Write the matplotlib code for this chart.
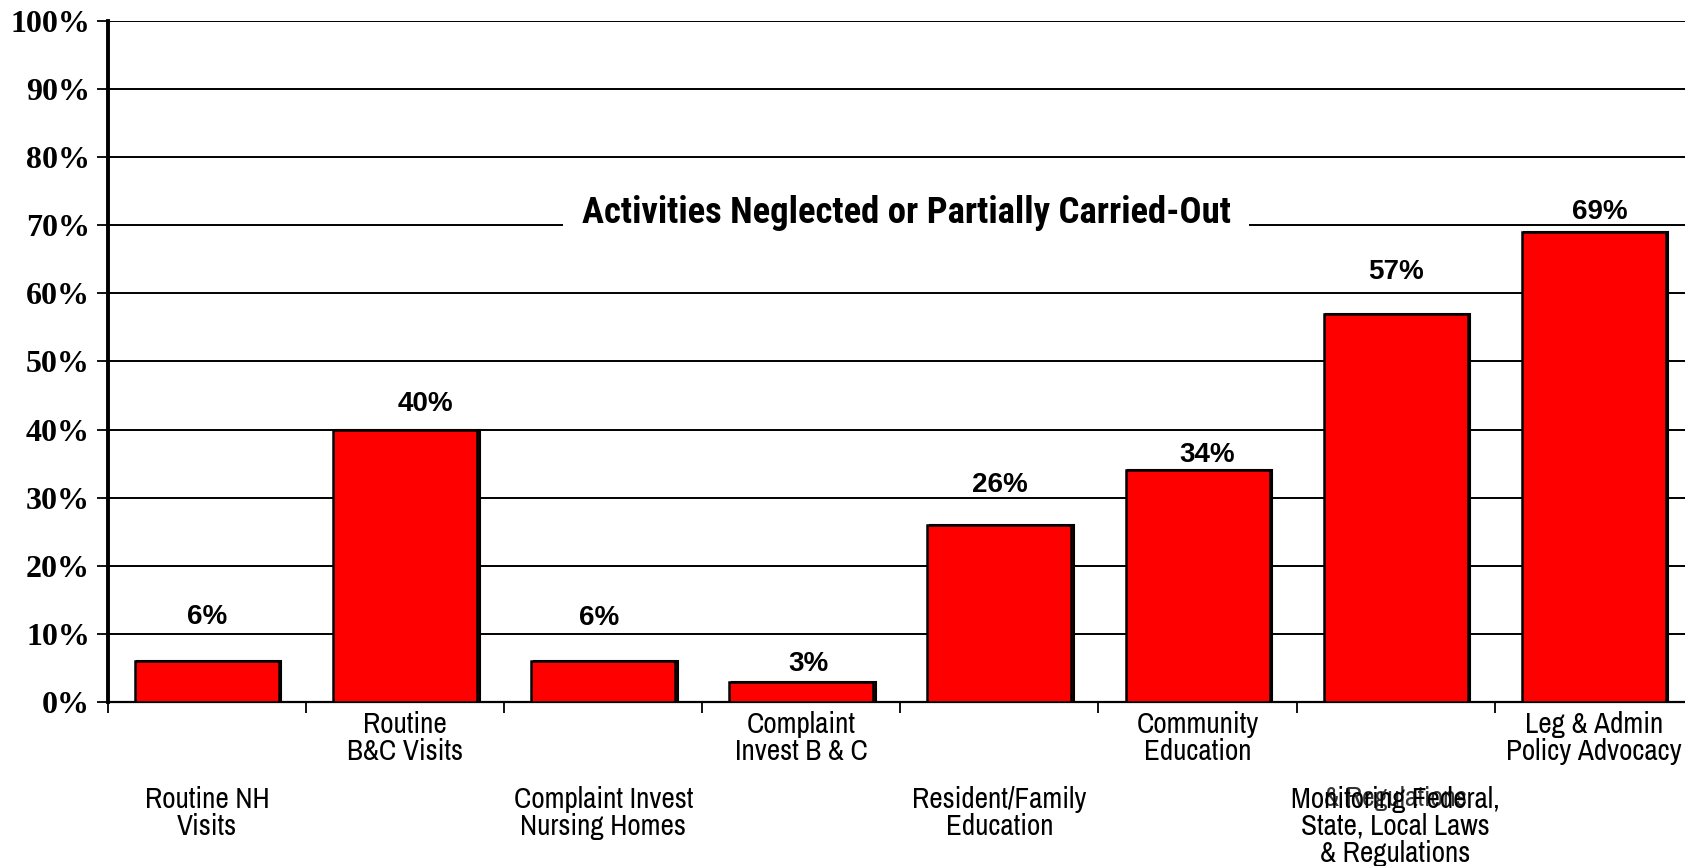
import numpy as np
import matplotlib
matplotlib.use("Agg")
import matplotlib.pyplot as plt
from matplotlib import font_manager

# values
categories = ["Routine NH\nVisits", "Routine\nB&C Visits", "Complaint Invest\nNursing Homes",
              "Complaint\nInvest B & C", "Resident/Family\nEducation", "Community\nEducation",
              "Monitoring Federal,\nState, Local Laws\n& Regulations", "Leg & Admin\nPolicy Advocacy"]
values = [6, 40, 6, 3, 26, 34, 57, 69]
ytick_values = [0, 10, 20, 30, 40, 50, 60, 70, 80, 90, 100]
title_text = "Activities Neglected or Partially Carried-Out"

# layout only: label nudges (in % / category units)
label_lift = [6.5, 3.8, 6.3, 2.6, 5.9, 2.2, 6.2, 3.0]
label_shift = [0, 0.1, -0.02, 0.035, 0, 0.05, 0, 0.03]

names = {f.name for f in font_manager.fontManager.ttflist}
def pick(*cands):
    for c in cands:
        if c in names:
            return c
    return "Liberation Sans"

narrow = pick("Liberation Sans Narrow", "Archivo Narrow", "PT Sans Narrow", "Roboto Condensed")
title_font = pick("Roboto Condensed", "PT Sans Narrow", "Archivo Narrow")

fig = plt.figure(figsize=(16.85, 8.66), dpi=100)
ax = fig.add_axes([0.0641, 0.1894, 0.9405, 0.7864])

x = np.arange(len(values)) + 0.5
bw = 0.727
# thin dark shadow on the right of each bar
ax.bar(x + 0.012, values, width=bw, color="#7a0000", edgecolor="black", linewidth=1.5, zorder=2)
ax.bar(x, values, width=bw, color="#ff0000", edgecolor="black", linewidth=1.8, zorder=3)

for i, v in enumerate(values):
    ax.text(x[i] + label_shift[i], v + label_lift[i], f"{v}%", ha="center", va="center",
            fontsize=20, fontweight="bold", family="Liberation Sans", zorder=4)

ax.set_xlim(0, len(values))
ax.set_ylim(0, 100)
ax.set_yticks(ytick_values)
ax.set_yticklabels([f"{t}%" for t in ytick_values], family="Liberation Serif",
                   fontweight="bold", fontsize=23)
ax.set_xticks(np.arange(len(values) + 1))
ax.set_xticklabels([])
ax.tick_params(axis="y", length=8, width=1.3, pad=5)
ax.tick_params(axis="x", length=8, width=1.3)
ax.yaxis.grid(True, color="black", linewidth=1.4, zorder=0)
ax.set_axisbelow(True)
for s in ["top", "right"]:
    ax.spines[s].set_visible(False)
ax.spines["left"].set_linewidth(2.8)
ax.spines["bottom"].set_linewidth(1.6)

# staggered category labels
for i, lab in enumerate(categories):
    y = -1.3 if i % 2 == 1 else -12.3
    ax.text(x[i], y, lab, ha="center", va="top", fontsize=21, family=narrow,
            linespacing=1.0, clip_on=False)
# overprinted text in the reference label
ax.text(x[6], -12.3, "& Regulations", ha="center", va="top", fontsize=20, family=narrow,
        clip_on=False, alpha=0.8)

ax.text(4.03, 70.4, title_text, ha="center", va="baseline", fontsize=26.5, fontweight="bold",
        family=title_font, zorder=5,
        bbox=dict(boxstyle="square,pad=0.5", facecolor="white", edgecolor="none"))

fig.savefig("out.png", dpi=100)
